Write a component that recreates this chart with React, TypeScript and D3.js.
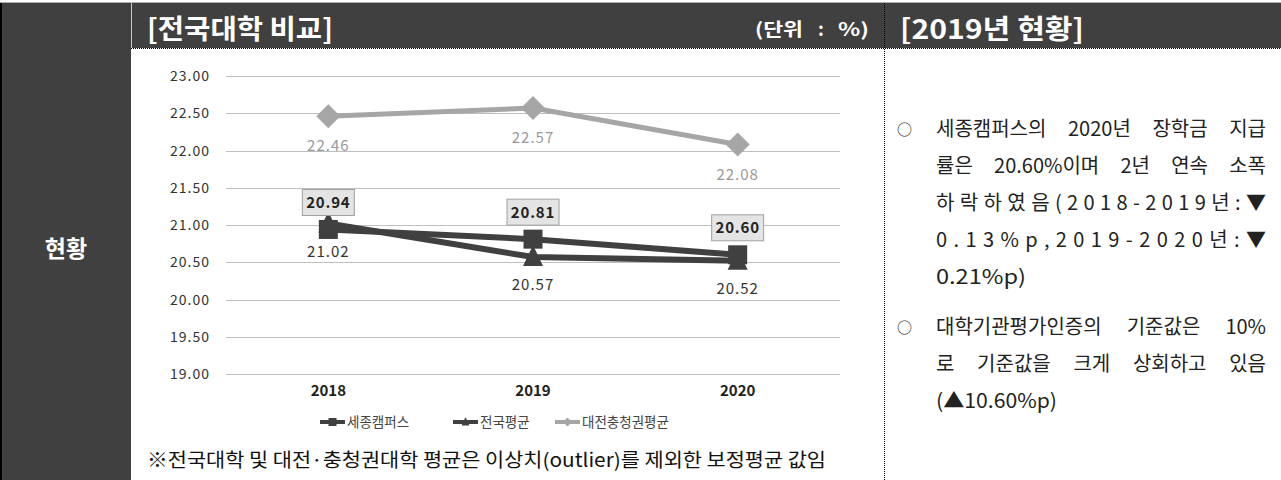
import React, { useEffect, useRef } from 'react';
import * as d3 from 'd3';

const years = ['2018', '2019', '2020'];
const sejongValues = [20.94, 20.81, 20.6];
const nationalValues = [21.02, 20.57, 20.52];
const daejeonValues = [22.46, 22.57, 22.08];
const yTickValues = [19, 19.5, 20, 20.5, 21, 21.5, 22, 22.5, 23];
const seriesNames = ['세종캠퍼스', '전국평균', '대전충청권평균'];

const titleLeft = '[전국대학 비교]';
const unitParts = ['(단위', ':', '%)'];
const titleRight = '[2019년 현황]';
const sideLabel = '현황';
const footnote = '※전국대학 및 대전·충청권대학 평균은 이상치(outlier)를 제외한 보정평균 값임';

type Line = { text: string; mode: 'words' | 'letters' | 'none'; bullet: boolean; width?: number };
const rightLines: Line[] = [
  { text: '세종캠퍼스의 2020년 장학금 지급', mode: 'words', bullet: true },
  { text: '률은 20.60%이며 2년 연속 소폭', mode: 'words', bullet: false },
  { text: '하락하였음(2018-2019년:▼', mode: 'letters', bullet: false },
  { text: '0.13%p,2019-2020년:▼', mode: 'letters', bullet: false },
  { text: '0.21%p)', mode: 'none', bullet: false, width: 90 },
  { text: '대학기관평가인증의 기준값은 10%', mode: 'words', bullet: true },
  { text: '로 기준값을 크게 상회하고 있음', mode: 'words', bullet: false },
  { text: '(▲10.60%p)', mode: 'none', bullet: false, width: 121 },
];

const FONT = "'Noto Sans CJK KR', 'Noto Sans', sans-serif";
const DARK = '#404040';
const LIGHT = '#a6a6a6';

function RightText() {
  const ref = useRef<SVGGElement>(null);
  useEffect(() => {
    const g = d3.select(ref.current);
    g.selectAll('*').remove();
    const x0 = 936;
    const x1 = 1266;
    const fs = 20;
    const lineYs = [136, 173, 210, 247, 284, 334, 371, 408];
    rightLines.forEach((ln, i) => {
      const y = lineYs[i];
      if (ln.bullet) {
        g.append('text').attr('x', 897).attr('y', y - 1).attr('font-size', 15)
          .attr('font-family', FONT).attr('fill', '#222').text('○');
      }
      if (ln.mode === 'letters') {
        g.append('text').attr('x', x0).attr('y', y).attr('font-size', fs)
          .attr('font-family', FONT).attr('fill', '#222')
          .attr('textLength', x1 - x0).attr('lengthAdjust', 'spacing').text(ln.text);
      } else if (ln.mode === 'none') {
        g.append('text').attr('x', x0).attr('y', y).attr('font-size', fs)
          .attr('font-family', FONT).attr('fill', '#222')
          .attr('textLength', ln.width || 0).attr('lengthAdjust', 'spacingAndGlyphs').text(ln.text);
      } else {
        const words = ln.text.split(' ');
        const nodes = words.map((w) =>
          g.append('text').attr('y', y).attr('font-size', fs)
            .attr('font-family', FONT).attr('fill', '#222').text(w));
        const widths = nodes.map((n) => (n.node() as SVGTextElement).getComputedTextLength());
        const total = d3.sum(widths);
        const gap = (x1 - x0 - total) / (words.length - 1);
        let x = x0;
        nodes.forEach((n, k) => {
          n.attr('x', x);
          x += widths[k] + gap;
        });
      }
    });
  }, []);
  return <g ref={ref} />;
}

export default function App() {
  const W = 1281;
  const H = 480;
  const x = d3.scalePoint<string>().domain(years).range([226, 840]).padding(0.5);
  const y = d3.scaleLinear().domain([19, 23]).range([374, 76]);
  const line = d3.line<number>().x((_, i) => x(years[i]) as number).y((d) => y(d));

  const square = (cx: number, cy: number, s: number, fill: string, key: string) => (
    <rect key={key} x={cx - s / 2} y={cy - s / 2} width={s} height={s} fill={fill} />
  );
  const tri = (cx: number, cy: number, s: number, fill: string, key: string) => (
    <path key={key} d={`M${cx},${cy - s * 0.6}L${cx + s / 2},${cy + s * 0.45}L${cx - s / 2},${cy + s * 0.45}Z`} fill={fill} />
  );
  const diamond = (cx: number, cy: number, s: number, fill: string, key: string) => (
    <path key={key} d={`M${cx},${cy - s / 2}L${cx + s / 2},${cy}L${cx},${cy + s / 2}L${cx - s / 2},${cy}Z`} fill={fill} />
  );

  const legendItems = [
    { name: seriesNames[0], color: DARK, marker: 'square', x: 320 },
    { name: seriesNames[1], color: DARK, marker: 'tri', x: 453 },
    { name: seriesNames[2], color: LIGHT, marker: 'diamond', x: 555 },
  ];
  const unitX = [755, 818, 838];
  const unitW = [48, 0, 31];

  return (
    <svg width={W} height={H} style={{ position: 'fixed', left: 0, top: 0, background: '#fff' }} fontFamily={FONT}>
      {/* frame */}
      <line x1={0} x2={W} y1={2.5} y2={2.5} stroke="#b0b0b0" strokeWidth={1} />
      <rect x={0} y={3} width={131} height={H - 3} fill={DARK} />
      <line x1={1} x2={1} y1={3} y2={H} stroke="#000" strokeWidth={2} />
      <rect x={131} y={3} width={W - 131} height={45} fill={DARK} />
      <line x1={131.5} x2={131.5} y1={3} y2={48} stroke="#c8c8c8" strokeWidth={1} />
      <line x1={131} x2={W} y1={48.5} y2={48.5} stroke="#000" strokeWidth={1} strokeDasharray="1,1" />
      <line x1={884.5} x2={884.5} y1={3} y2={H} stroke="#000" strokeWidth={1} strokeDasharray="1,1" />
      <text x={66} y={257} fill="#fff" fontSize={23} fontWeight="bold" textAnchor="middle">{sideLabel}</text>
      <text x={147} y={39} fill="#fff" fontSize={27} fontWeight="bold" textLength={186} lengthAdjust="spacingAndGlyphs">{titleLeft}</text>
      {unitParts.map((p, i) => (
        unitW[i] > 0 ? (
          <text key={p} x={unitX[i]} y={36} fill="#fff" fontSize={18} fontWeight="bold" textLength={unitW[i]} lengthAdjust="spacingAndGlyphs">{p}</text>
        ) : (
          <text key={p} x={unitX[i]} y={36} fill="#fff" fontSize={18} fontWeight="bold">{p}</text>
        )
      ))}
      <text x={900} y={39} fill="#fff" fontSize={27} fontWeight="bold" textLength={184} lengthAdjust="spacingAndGlyphs">{titleRight}</text>

      {/* grid + y axis */}
      {yTickValues.map((t) => (
        <g key={t}>
          <line x1={226} x2={840} y1={Math.round(y(t)) + 0.5} y2={Math.round(y(t)) + 0.5} stroke="#bfbfbf" strokeWidth={1} />
          <text x={210} y={y(t) + 5} fontSize={14} fill="#333" textAnchor="end" letterSpacing={1}>{t.toFixed(2)}</text>
        </g>
      ))}
      {years.map((yr) => (
        <text key={yr} x={x(yr)} y={396} fontSize={15} fontWeight="bold" fill="#222" textAnchor="middle">{yr}</text>
      ))}

      {/* series */}
      <path d={line(daejeonValues) || ''} fill="none" stroke={LIGHT} strokeWidth={5} />
      {daejeonValues.map((v, i) => diamond(x(years[i]) as number, y(v), 24, LIGHT, 'd' + i))}
      <path d={line(nationalValues) || ''} fill="none" stroke={DARK} strokeWidth={6} />
      {nationalValues.map((v, i) => tri(x(years[i]) as number, y(v), 20, DARK, 't' + i))}
      <path d={line(sejongValues) || ''} fill="none" stroke={DARK} strokeWidth={6} />
      {sejongValues.map((v, i) => square(x(years[i]) as number, y(v), 19, DARK, 's' + i))}

      {/* labels */}
      {daejeonValues.map((v, i) => (
        <text key={'dl' + i} x={x(years[i])} y={y(v) + 35} fontSize={15} fill="#999" textAnchor="middle" letterSpacing={1}>{v.toFixed(2)}</text>
      ))}
      {nationalValues.map((v, i) => (
        <text key={'nl' + i} x={x(years[i])} y={y(v) + 33} fontSize={15} fill="#333" textAnchor="middle" letterSpacing={1}>{v.toFixed(2)}</text>
      ))}
      {sejongValues.map((v, i) => {
        const cx = x(years[i]) as number;
        const cy = y(v) - 27;
        return (
          <g key={'sl' + i}>
            <rect x={cx - 26} y={cy - 13} width={52} height={26} fill="#e4e4e4" stroke="#a0a0a0" strokeWidth={1} />
            <text x={cx} y={cy + 5.5} fontSize={15} fontWeight="bold" fill="#222" textAnchor="middle" letterSpacing={0.8}>{v.toFixed(2)}</text>
          </g>
        );
      })}

      {/* legend */}
      {legendItems.map((it) => (
        <g key={it.name}>
          <line x1={it.x} x2={it.x + 25} y1={422} y2={422} stroke={it.color} strokeWidth={4} />
          {it.marker === 'square' && square(it.x + 12.5, 422, 8, it.color, 'lm')}
          {it.marker === 'tri' && tri(it.x + 12.5, 422, 8, it.color, 'lm')}
          {it.marker === 'diamond' && diamond(it.x + 12.5, 422, 9, it.color, 'lm')}
          <text x={it.x + 27} y={427} fontSize={13.5} fill="#444">{it.name}</text>
        </g>
      ))}

      <text x={147} y={467} fontSize={19} fill="#111" textLength={679} lengthAdjust="spacingAndGlyphs">{footnote}</text>

      <RightText />
    </svg>
  );
}
